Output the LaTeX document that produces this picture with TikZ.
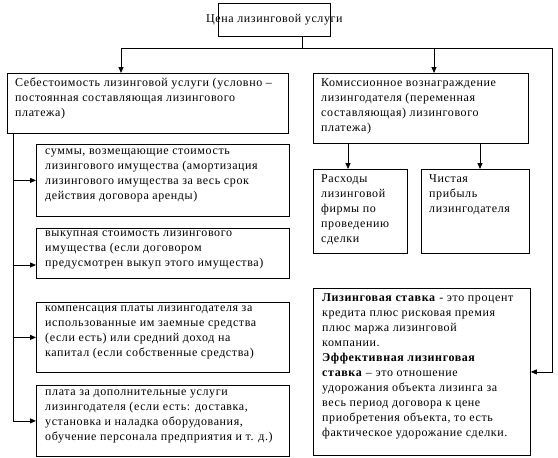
\documentclass[tikz,border=0pt]{standalone}
\usepackage{fontspec}
\setmainfont{Liberation Serif}[LetterSpace=5]
\usetikzlibrary{arrows.meta}
\begin{document}
\begin{tikzpicture}[x=1pt,y=-1pt,
  box/.style={draw,line width=0.8pt,inner sep=0pt,anchor=north west},
  txt/.style={anchor=north west,align=left,inner sep=0pt,font=\fontsize{12}{15}\selectfont},
  arr/.style={line width=0.8pt,-{Triangle[length=6pt,width=5pt]}},
  ln/.style={line width=0.8pt}]
\useasboundingbox (0,0) rectangle (558,458);
\fill[white] (0,0) rectangle (558,458);
% boxes
\node[box,minimum width=112pt,minimum height=33pt] (top) at (218,3) {};
\node[box,minimum width=281pt,minimum height=60pt] (cost) at (7,73) {};
\node[box,minimum width=215pt,minimum height=70pt] (comm) at (313,73) {};
\node[box,minimum width=94pt,minimum height=84pt] (exp) at (313,169) {};
\node[box,minimum width=108pt,minimum height=84pt] (prof) at (421,169) {};
\node[box,minimum width=253pt,minimum height=72pt] (ba) at (36,144) {};
\node[box,minimum width=253pt,minimum height=50pt] (bb) at (36,228) {};
\node[box,minimum width=253pt,minimum height=70pt] (bc) at (36,302) {};
\node[box,minimum width=253pt,minimum height=71pt] (bd) at (36,385) {};
\node[box,minimum width=217pt,minimum height=167pt] (rate) at (313,288) {};
% texts
\node[font=\fontsize{12}{15}\selectfont,inner sep=0pt] (ttop) at (top.center) {Цена лизинговой услуги};
\node[txt] (tcost) at ([shift={(8,5)}]cost.north west) {Себестоимость лизинговой услуги (условно –\\постоянная составляющая лизингового\\платежа)};
\node[txt] (tcomm) at ([shift={(8,5)}]comm.north west) {Комиссионное вознаграждение\\лизингодателя (переменная\\составляющая) лизингового\\платежа)};
\node[txt] (texp) at ([shift={(8,5)}]exp.north west) {Расходы\\лизинговой\\фирмы по\\проведению\\сделки};
\node[txt] (tprof) at ([shift={(8,5)}]prof.north west) {Чистая\\прибыль\\лизингодателя};
\node[txt] (tba) at ([shift={(9,5)}]ba.north west) {суммы, возмещающие стоимость\\лизингового имущества (амортизация\\лизингового имущества за весь срок\\действия договора аренды)};
\node[txt] (tbb) at ([shift={(9,3)}]bb.north west) {выкупная стоимость лизингового\\имущества (если договором\\предусмотрен выкуп этого имущества)};
\node[txt] (tbc) at ([shift={(9,4)}]bc.north west) {компенсация платы лизингодателя за\\использованные им заемные средства\\(если есть) или средний доход на\\капитал (если собственные средства)};
\node[txt] (tbd) at ([shift={(9,5)}]bd.north west) {плата за дополнительные услуги\\лизингодателя (если есть: доставка,\\установка и наладка оборудования,\\обучение персонала предприятия и т. д.)};
\node[txt] (trate) at ([shift={(9,5)}]rate.north west) {\textbf{Лизинговая ставка} - это процент\\кредита плюс рисковая премия\\плюс маржа лизинговой\\компании.\\\textbf{Эффективная лизинговая}\\\textbf{ставка} – это отношение\\удорожания объекта лизинга за\\весь период договора к цене\\приобретения объекта, то есть\\фактическое удорожание сделки.};
% junction coordinates
\coordinate (jt) at (302,48);
\coordinate (jl) at (121,48);
\coordinate (jm) at (434,48);
\coordinate (jr) at (552,48);
\coordinate (x1) at (348,0);
\coordinate (x2) at (480,0);
\coordinate (lx) at (13,0);
\coordinate (yb) at (0,265);
% connectors
\draw[ln] (top.south -| jt) -- (jt);
\draw[ln] (jl) -- (jr);
\draw[arr] (jl) -- (jl |- cost.north);
\draw[arr] (jm) -- (jm |- comm.north);
\draw[arr] (jr) |- (rate.east);
\draw[arr] (comm.south -| x1) -- (x1 |- exp.north);
\draw[arr] (comm.south -| x2) -- (x2 |- prof.north);
\draw[arr] (cost.south -| lx) |- (bd.west);
\draw[arr] (lx |- ba.west) -- (ba.west);
\draw[arr] (lx |- yb) -- (bb.west |- yb);
\draw[arr] (lx |- bc.west) -- (bc.west);
\end{tikzpicture}
\end{document}
